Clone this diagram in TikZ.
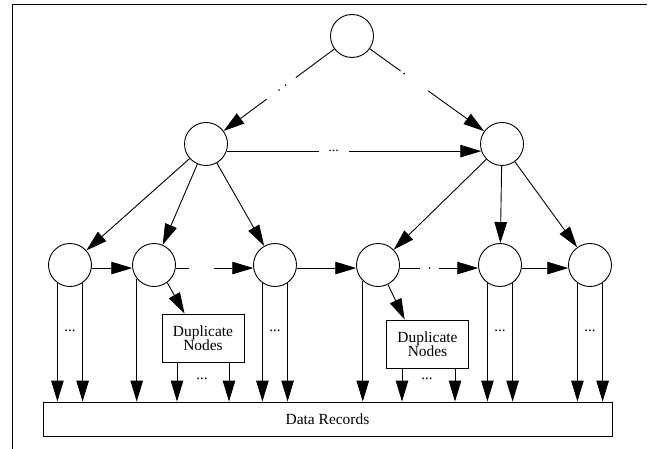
\documentclass[tikz,border=0pt]{standalone}
\usepackage{fontspec}
\setmainfont{Liberation Serif}
\usetikzlibrary{arrows.meta,calc}
\begin{document}
\begin{tikzpicture}[x=1bp,y=-1bp,
  line width=0.9bp,
  circ/.style={draw, circle, minimum size=43bp, inner sep=0pt},
  arr/.style={-{Triangle[length=21bp,width=12.5bp]}},
  gap/.style={fill=white, inner sep=0pt, minimum height=5bp, font=\fontsize{14}{14}\selectfont},
  speck/.style={circle, fill=black, inner sep=0pt, minimum size=1.8bp},
  dupbox/.style={draw, align=center, inner sep=0pt, minimum width=82bp, minimum height=48bp, font=\fontsize{15.5}{14.5}\selectfont},
  dots/.style={font=\fontsize{15}{15}\selectfont, inner sep=0pt},
]
\useasboundingbox (0,0) rectangle (648,449);
\draw (12,449) -- (12,4) -- (647,4);

% tree nodes
\node[circ] (r) at (352,36) {};
\node[circ] (a) at (206,144) {};
\node[circ] (b) at (502,144) {};
\node[circ] (n1) at (70,265) {};
\node[circ] (n2) at (154,265) {};
\node[circ] (n3) at (275,265) {};
\node[circ] (n4) at (378,265) {};
\node[circ] (n5) at (500,265) {};
\node[circ] (n6) at (590,265) {};
\node[dupbox] (d1) at (203,338) {Duplicate\\Nodes};
\node[dupbox] (d2) at (427.5,344) {Duplicate\\Nodes};
\node[draw, minimum width=569bp, minimum height=34bp, inner sep=0pt,
      font=\fontsize{15.5}{15.5}\selectfont] (data) at (327.5,419) {Data Records};

% root to level 2
\draw[arr] (r) -- node[gap, sloped, pos=0.48, minimum width=36bp] {}
  node[speck, pos=0.44] {} node[speck, pos=0.50] {} (a);
\draw[arr] (r) -- node[gap, sloped, pos=0.39, minimum width=34bp] {}
  node[speck, pos=0.30] {} (b);
\draw[arr] (a.-19) -- node[gap, pos=0.42, minimum width=30bp] {...} (b.-161);

% level 2 to level 3
\draw[arr] (a) -- (n1);
\draw[arr] (a) -- (n2);
\draw[arr] (a) -- (n3);
\draw[arr] (b) -- (n4);
\draw[arr] (b) -- (n5);
\draw[arr] (b) -- (n6);

% level 3 horizontal links
\draw[arr] (n1.-8) -- (n2.188);
\draw[arr] (n2.-8) -- node[gap, pos=0.33, minimum width=25bp] {} (n3.188);
\draw[arr] (n3.-8) -- (n4.188);
\draw[arr] (n4.-8) -- node[gap, pos=0.38, minimum width=19bp] {} node[speck, pos=0.38] {} (n5.188);
\draw[arr] (n5.-8) -- (n6.188);

% to duplicate boxes
\draw[arr] (n2.-53) -- (d1.127);
\draw[arr] (n4.-63) -- (d2.133);

% down to data records
\foreach \n in {n1,n3,n5,n6}{
  \draw[arr] (\n.-125) -- (\n.-125 |- data.north);
  \draw[arr] (\n.-55) -- (\n.-55 |- data.north);
}
\draw[arr] (n2.-142) -- (n2.-142 |- data.north);
\draw[arr] (n4.-134) -- (n4.-134 |- data.north);

\coordinate (d1l) at ($(d1.south)+(-26,0)$);
\coordinate (d1r) at ($(d1.south)+(26,0)$);
\coordinate (d2l) at ($(d2.south)+(-25.5,0)$);
\coordinate (d2r) at ($(d2.south)+(27.5,0)$);
\draw[arr] (d1l) -- (d1l |- data.north);
\draw[arr] (d1r) -- (d1r |- data.north);
\draw[arr] (d2l) -- (d2l |- data.north);
\draw[arr] (d2r) -- (d2r |- data.north);

% ellipsis labels
\node[dots] (e1) at (70,331) {...};
\node[dots] (e3) at (275,331) {...};
\node[dots] (e5) at (500,331) {...};
\node[dots] (e6) at (590,331) {...};
\node[dots] (ed1) at (202,379) {...};
\node[dots] (ed2) at (427,379) {...};
\end{tikzpicture}
\end{document}
